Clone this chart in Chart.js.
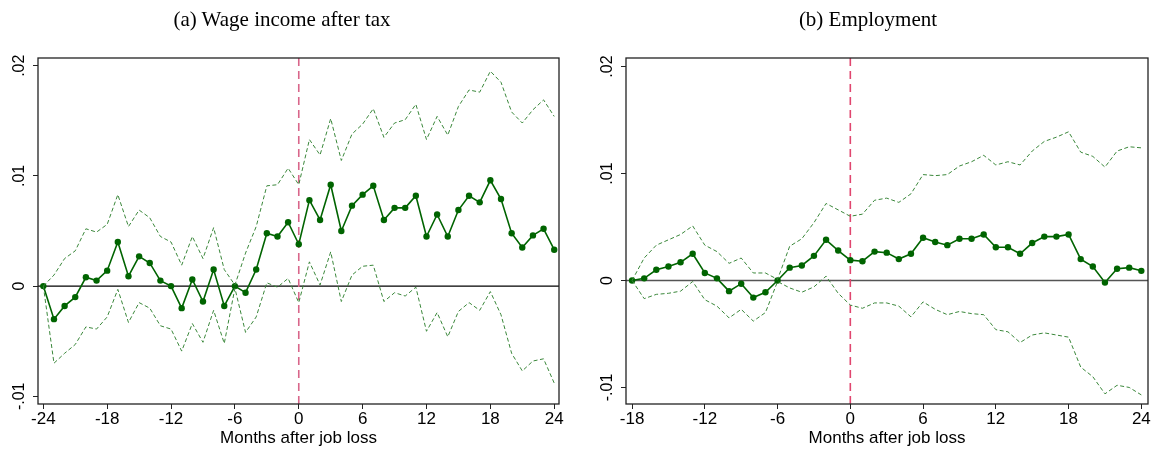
<!DOCTYPE html>
<html>
<head>
<meta charset="utf-8">
<script src="https://cdn.jsdelivr.net/npm/chart.js@4/dist/chart.umd.min.js"></script>
<style>
body { margin: 0; background: #fff; width: 1153px; height: 449px; overflow: hidden; position: relative; }
.panel { position: absolute; top: 0; height: 449px; }
.titulo { position: absolute; top: 7px; width: 400px; font-family: "Liberation Serif", serif; font-size: 21px; text-align: center; color: #000; white-space: nowrap; }
</style>
</head>
<body>
<div class="panel" style="left:0;width:576px"><canvas id="chartA" width="576" height="449"></canvas></div>
<div class="panel" style="left:576px;width:577px"><canvas id="chartB" width="577" height="449"></canvas></div>
<div class="titulo" style="left:82px">(a) Wage income after tax</div>
<div class="titulo" style="left:668px">(b) Employment</div>
<script>
// ============================
// 1. Datos
// ============================
const mesesA = [-24,-23,-22,-21,-20,-19,-18,-17,-16,-15,-14,-13,-12,-11,-10,-9,-8,-7,-6,-5,-4,-3,-2,-1,
                0,1,2,3,4,5,6,7,8,9,10,11,12,13,14,15,16,17,18,19,20,21,22,23,24];
const ingresoEstimado = [0,-0.0030,-0.0018,-0.0010,0.0008,0.0005,0.0014,0.0040,0.0009,0.0027,0.0021,0.0005,0.0000,
    -0.0020,0.0006,-0.0014,0.0015,-0.0018,0,-0.0006,0.0015,0.0048,0.0045,0.0058,
    0.0038,0.0078,0.0060,0.0092,0.0050,0.0073,0.0083,0.0091,0.0060,0.0071,0.0071,0.0082,0.0045,
    0.0065,0.0045,0.0069,0.0082,0.0076,0.0096,0.0079,0.0048,0.0035,0.0046,0.0052,0.0033];
const ingresoSuperior = [0,0.0010,0.0025,0.0032,0.0052,0.0049,0.0056,0.0083,0.0054,0.0069,0.0062,0.0045,0.0040,
    0.0019,0.0045,0.0025,0.0053,0.0015,0.0001,0.0030,0.0054,0.0091,0.0092,0.0107,
    0.0092,0.0133,0.0119,0.0152,0.0114,0.0138,0.0147,0.0161,0.0135,0.0148,0.0151,0.0165,0.0133,
    0.0154,0.0137,0.0163,0.0178,0.0176,0.0195,0.0185,0.0158,0.0148,0.0160,0.0169,0.0154];
const ingresoInferior = [0,-0.0070,-0.0061,-0.0053,-0.0037,-0.0039,-0.0028,-0.0003,-0.0033,-0.0015,-0.0020,-0.0036,-0.0039,
    -0.0059,-0.0034,-0.0051,-0.0022,-0.0052,-0.0002,-0.0042,-0.0028,0.0003,-0.0001,0.0007,
    -0.0015,0.0022,0.0001,0.0031,-0.0014,0.0010,0.0018,0.0019,-0.0014,-0.0006,-0.0009,-0.0001,-0.0041,
    -0.0024,-0.0046,-0.0023,-0.0015,-0.0022,-0.0005,-0.0026,-0.0061,-0.0077,-0.0068,-0.0066,-0.0088];

const mesesB = [-18,-17,-16,-15,-14,-13,-12,-11,-10,-9,-8,-7,-6,-5,-4,-3,-2,-1,
                0,1,2,3,4,5,6,7,8,9,10,11,12,13,14,15,16,17,18,19,20,21,22,23,24];
const empleoEstimado = [0,0.0002,0.0010,0.0013,0.0017,0.0025,0.0007,0.0002,-0.0010,-0.0003,-0.0016,-0.0011,0,
    0.0012,0.0014,0.0023,0.0038,0.0028,
    0.0019,0.0018,0.0027,0.0026,0.0020,0.0025,0.0040,0.0036,0.0033,0.0039,0.0039,0.0043,0.0031,
    0.0031,0.0025,0.0035,0.0041,0.0041,0.0043,0.0020,0.0013,-0.0002,0.0011,0.0012,0.0009];
const empleoSuperior = [0,0.0021,0.0033,0.0038,0.0043,0.0051,0.0033,0.0027,0.0016,0.0021,0.0007,0.0007,0.0001,
    0.0032,0.0039,0.0054,0.0072,0.0066,
    0.0060,0.0062,0.0075,0.0077,0.0073,0.0081,0.0099,0.0098,0.0099,0.0107,0.0111,0.0117,0.0108,
    0.0111,0.0108,0.0121,0.0130,0.0134,0.0139,0.0120,0.0116,0.0106,0.0121,0.0125,0.0124];
const empleoInferior = [0,-0.0017,-0.0013,-0.0012,-0.0010,-0.0001,-0.0018,-0.0024,-0.0035,-0.0027,-0.0038,-0.0030,-0.0001,
    -0.0007,-0.0011,-0.0006,0.0004,-0.0012,
    -0.0023,-0.0026,-0.0021,-0.0021,-0.0024,-0.0034,-0.0020,-0.0027,-0.0032,-0.0029,-0.0031,-0.0032,-0.0046,
    -0.0048,-0.0058,-0.0051,-0.0049,-0.0051,-0.0053,-0.0081,-0.0090,-0.0106,-0.0098,-0.0100,-0.0107];

// Ticks
const ticksXA = [-24,-18,-12,-6,0,6,12,18,24];
const ticksXB = [-18,-12,-6,0,6,12,18,24];
const ticksY = [-0.01,0,0.01,0.02];
const etiquetasY = ['-.01','0','.01','.02'];
const mesEvento = 0;

// ============================
// 2. Plugin: marco, línea cero y línea del evento
// ============================
const lineasReferencia = {
    id: 'lineasReferencia',
    beforeDatasetsDraw(chart, args, opts) {
        const { ctx, chartArea: a, scales: { x, y } } = chart;
        ctx.save();
        const y0 = y.getPixelForValue(0);
        ctx.strokeStyle = opts.colorCero;
        ctx.lineWidth = opts.anchoCero;
        ctx.beginPath();
        ctx.moveTo(a.left, y0);
        ctx.lineTo(a.right, y0);
        ctx.stroke();

        const x0 = x.getPixelForValue(mesEvento);
        ctx.strokeStyle = opts.colorEvento;
        ctx.lineWidth = 1.6;
        ctx.setLineDash([8, 5]);
        ctx.beginPath();
        ctx.moveTo(x0, a.top);
        ctx.lineTo(x0, a.bottom);
        ctx.stroke();
        ctx.restore();
    },
    afterDraw(chart) {
        const { ctx, chartArea: a } = chart;
        ctx.save();
        ctx.strokeStyle = '#222';
        ctx.lineWidth = 1.3;
        ctx.strokeRect(a.left, a.top, a.right - a.left, a.bottom - a.top);
        ctx.restore();
    }
};

// ============================
// 3. Construcción de gráficas
// ============================
function puntos(meses, valores) {
    return meses.map((m, i) => ({ x: m, y: valores[i] }));
}

function crearGrafica(id, meses, est, sup, inf, ticksX, rangoX, rangoY, padding, colorCero, colorEvento) {
    const familia = '"Liberation Sans", Arial, sans-serif';
    const banda = {
        borderColor: '#3a873a',
        borderWidth: 1,
        borderDash: [4, 2.5],
        pointRadius: 0,
        fill: false,
        tension: 0
    };
    return new Chart(document.getElementById(id), {
        type: 'line',
        data: {
            datasets: [
                Object.assign({ data: puntos(meses, sup) }, banda),
                Object.assign({ data: puntos(meses, inf) }, banda),
                {
                    data: puntos(meses, est),
                    borderColor: '#006400',
                    backgroundColor: '#006400',
                    pointBackgroundColor: '#006400',
                    pointBorderColor: '#006400',
                    pointRadius: 3.2,
                    pointBorderWidth: 0,
                    borderWidth: 1.6,
                    tension: 0
                }
            ]
        },
        options: {
            responsive: false,
            animation: false,
            layout: { padding: padding },
            plugins: {
                legend: { display: false },
                tooltip: { enabled: false },
                lineasReferencia: { colorCero: colorCero, anchoCero: 1.4, colorEvento: colorEvento }
            },
            scales: {
                x: {
                    type: 'linear',
                    min: rangoX[0],
                    max: rangoX[1],
                    afterBuildTicks: (s) => { s.ticks = ticksX.map(v => ({ value: v })); },
                    afterFit: (s) => { s.height = 45; },
                    grid: { display: true, drawOnChartArea: false, drawTicks: true, tickLength: 5, tickColor: '#222', lineWidth: 1 },
                    border: { display: false },
                    ticks: { color: '#000', font: { family: familia, size: 17 }, padding: 0, maxRotation: 0, callback: (v) => String(v) },
                    title: { display: true, text: 'Months after job loss', color: '#000', font: { family: familia, size: 17 }, padding: { top: 0, bottom: 0 } }
                },
                y: {
                    type: 'linear',
                    min: rangoY[0],
                    max: rangoY[1],
                    afterBuildTicks: (s) => { s.ticks = ticksY.map(v => ({ value: v })); },
                    afterFit: (s) => { s.width = 38; },
                    grid: { display: true, drawOnChartArea: false, drawTicks: true, tickLength: 5, tickColor: '#222', lineWidth: 1 },
                    border: { display: false },
                    ticks: {
                        color: '#000', font: { family: familia, size: 16 }, padding: 0,
                        minRotation: 90, maxRotation: 90, crossAlign: 'center',
                        callback: (v) => etiquetasY[ticksY.indexOf(v)]
                    }
                }
            }
        },
        plugins: [lineasReferencia]
    });
}

crearGrafica('chartA', mesesA, ingresoEstimado, ingresoSuperior, ingresoInferior, ticksXA,
    [-24.5, 24.45], [-0.0107, 0.0207], { top: 58, right: 17, left: 0, bottom: 0 }, '#000', '#d9668a');
crearGrafica('chartB', mesesB, empleoEstimado, empleoSuperior, empleoInferior, ticksXB,
    [-18.5, 24.55], [-0.01155, 0.0208], { top: 58, right: 5, left: 12, bottom: 0 }, '#555', '#e0466f');
</script>
</body>
</html>
